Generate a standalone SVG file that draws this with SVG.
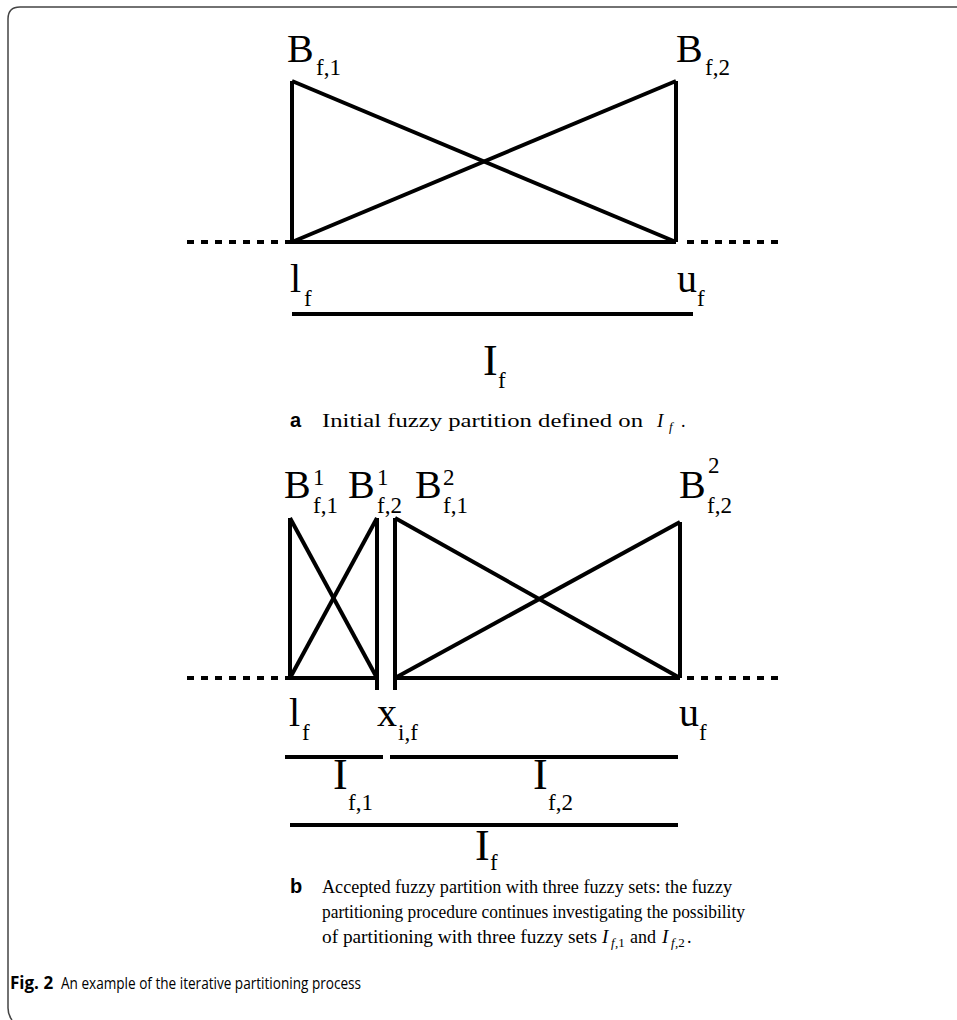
<svg xmlns="http://www.w3.org/2000/svg" width="957" height="1020" viewBox="0 0 957 1020">
<style>
.ln{stroke:#000;stroke-width:4;fill:none;stroke-linecap:butt}
.ds{stroke:#000;stroke-width:4;fill:none;stroke-dasharray:7 7}
.lb{font-family:"Liberation Serif",serif;font-size:40px;fill:#000}
.sb{font-family:"Liberation Serif",serif;font-size:23px;fill:#000}
.big{font-family:"Liberation Serif",serif;font-size:44px;fill:#000}
.cap{font-family:"Liberation Serif","DejaVu Serif",serif;font-size:18px;fill:#000}
.mi{font-family:"Liberation Serif",serif;font-style:italic;font-size:19px}
.ms{font-family:"Liberation Serif",serif;font-style:italic;font-size:13px}
.ms2{font-family:"Liberation Serif",serif;font-size:13px}
.tag{font-family:"Liberation Sans",sans-serif;font-weight:bold;font-size:20px;fill:#000}
.fig{font-family:"Open Sans","Liberation Sans",sans-serif;font-size:17px;fill:#000}
</style>
<path d="M957 7 H20 Q8 7 8 19 V1008 Q8 1015 12 1020" fill="none" stroke="#444" stroke-width="1.5"/>

<g id="connectors">
<line class="ds" x1="187" y1="242" x2="292" y2="242"/>
<line class="ds" x1="687" y1="242" x2="783" y2="242"/>
<line class="ln" x1="292" y1="242" x2="676" y2="242"/>
<line class="ln" x1="292" y1="81" x2="292" y2="242"/>
<line class="ln" x1="676" y1="81" x2="676" y2="242"/>
<line class="ln" x1="292" y1="81" x2="676" y2="242"/>
<line class="ln" x1="676" y1="81" x2="292" y2="242"/>
<line class="ln" x1="292" y1="314" x2="693" y2="314"/>
<line class="ds" x1="187" y1="678" x2="290" y2="678"/>
<line class="ds" x1="687" y1="678" x2="783" y2="678"/>
<line class="ln" x1="290" y1="678" x2="377" y2="678"/>
<line class="ln" x1="290" y1="518" x2="290" y2="678"/>
<line class="ln" x1="377" y1="518" x2="377" y2="690"/>
<line class="ln" x1="290" y1="518" x2="377" y2="678"/>
<line class="ln" x1="377" y1="518" x2="290" y2="678"/>
<line class="ln" x1="395" y1="678" x2="680" y2="678"/>
<line class="ln" x1="395" y1="518" x2="395" y2="690"/>
<line class="ln" x1="680" y1="522" x2="680" y2="678"/>
<line class="ln" x1="395" y1="518" x2="680" y2="678"/>
<line class="ln" x1="680" y1="522" x2="395" y2="678"/>
<line class="ln" x1="285" y1="757" x2="383" y2="757"/>
<line class="ln" x1="390" y1="757" x2="678" y2="757"/>
<line class="ln" x1="290" y1="825" x2="678" y2="825"/>
</g>

<g id="label-Bf1-a"><text class="lb" x="287" y="62">B</text><text class="sb" x="316" y="75">f,1</text></g>
<g id="label-Bf2-a"><text class="lb" x="676" y="62">B</text><text class="sb" x="705" y="75">f,2</text></g>
<g id="label-lf-a"><text class="lb" x="290" y="292">l</text><text class="sb" x="304" y="306">f</text></g>
<g id="label-uf-a"><text class="lb" x="677" y="292">u</text><text class="sb" x="697" y="306">f</text></g>
<g id="label-If-a"><text class="big" x="483" y="375">I</text><text class="sb" x="498" y="388">f</text></g>
<g id="caption-a"><text class="tag" x="290" y="427">a</text><text class="cap" x="322" y="427" textLength="321" lengthAdjust="spacingAndGlyphs">Initial fuzzy partition defined on</text><text class="mi" x="657" y="427">I</text><text class="ms" x="669" y="431">f</text><text class="cap" x="681" y="427">.</text></g>

<g id="label-B1f1"><text class="lb" x="284" y="498">B</text><text class="sb" x="313" y="485">1</text><text class="sb" x="313" y="513">f,1</text></g>
<g id="label-B1f2"><text class="lb" x="348" y="498">B</text><text class="sb" x="377" y="485">1</text><text class="sb" x="377" y="513">f,2</text></g>
<g id="label-B2f1"><text class="lb" x="415" y="498">B</text><text class="sb" x="443" y="485">2</text><text class="sb" x="443" y="513">f,1</text></g>
<g id="label-B2f2"><text class="lb" x="679" y="498">B</text><text class="sb" x="708" y="473">2</text><text class="sb" x="707" y="513">f,2</text></g>
<g id="label-lf-b"><text class="lb" x="289" y="726">l</text><text class="sb" x="302" y="740">f</text></g>
<g id="label-xif"><text class="lb" x="377" y="726">x</text><text class="sb" x="398" y="740">i,f</text></g>
<g id="label-uf-b"><text class="lb" x="679" y="726">u</text><text class="sb" x="699" y="740">f</text></g>
<g id="label-If1"><text class="big" x="333" y="789">I</text><text class="sb" x="348" y="810">f,1</text></g>
<g id="label-If2"><text class="big" x="533" y="789">I</text><text class="sb" x="548" y="810">f,2</text></g>
<g id="label-If-b"><text class="big" x="475" y="860">I</text><text class="sb" x="490" y="870">f</text></g>

<g id="caption-b">
<text class="tag" x="290" y="893">b</text>
<text class="cap" x="322" y="893" textLength="410" lengthAdjust="spacingAndGlyphs">Accepted fuzzy partition with three fuzzy sets: the fuzzy</text>
<text class="cap" x="322" y="918" textLength="423" lengthAdjust="spacingAndGlyphs">partitioning procedure continues investigating the possibility</text>
<text class="cap" x="322" y="943" textLength="275" lengthAdjust="spacingAndGlyphs">of partitioning with three fuzzy sets</text>
<text class="mi" x="602" y="943">I</text><text class="ms" x="611" y="947">f</text><text class="ms2" x="615" y="947">,1</text>
<text class="cap" x="630" y="943">and</text>
<text class="mi" x="662" y="943">I</text><text class="ms" x="671" y="947">f</text><text class="ms2" x="675" y="947">,2</text><text class="cap" x="687" y="943">.</text>
</g>

<g id="fig-caption">
<text class="fig" x="10" y="989" font-weight="bold">Fig. 2</text>
<text class="fig" x="61" y="989" textLength="300" lengthAdjust="spacingAndGlyphs">An example of the iterative partitioning process</text>
</g>
</svg>
